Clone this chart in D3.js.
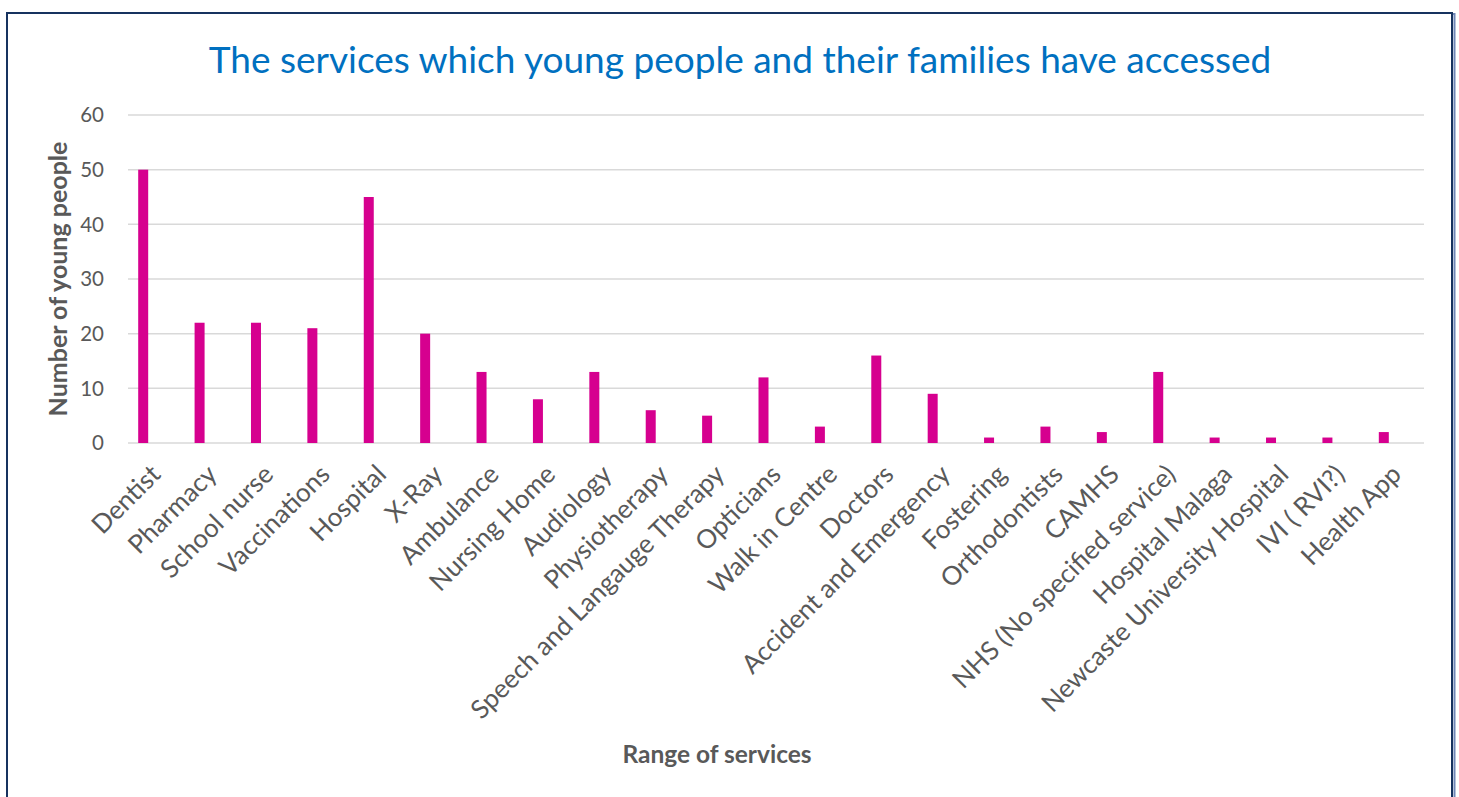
<!DOCTYPE html>
<html>
<head>
<meta charset="utf-8">
<script src="https://cdn.jsdelivr.net/npm/d3@7"></script>
<style>
  html, body { margin: 0; padding: 0; background: #fff; }
  svg text { font-family: Lato, "Open Sans", sans-serif; }
</style>
</head>
<body>
<div id="chart"></div>
<script>
// 数据
const categories = [
  "Dentist", "Pharmacy", "School nurse", "Vaccinations", "Hospital", "X-Ray",
  "Ambulance", "Nursing Home", "Audiology", "Physiotherapy",
  "Speech and Langauge Therapy", "Opticians", "Walk in Centre", "Doctors",
  "Accident and Emergency", "Fostering", "Orthodontists", "CAMHS",
  "NHS (No specified service)", "Hospital Malaga", "Newcaste University Hospital",
  "IVI ( RVI?)", "Health App"
];
const counts = [50, 22, 22, 21, 45, 20, 13, 8, 13, 6, 5, 12, 3, 16, 9, 1, 3, 2, 13, 1, 1, 1, 2];
const yTicks = [0, 10, 20, 30, 40, 50, 60];

const width = 1459, height = 797;
const plot = { left: 128, right: 1424, top: 115, bottom: 443 };

const svg = d3.select("#chart").append("svg")
  .attr("width", width)
  .attr("height", height);

// 外框
svg.append("rect")
  .attr("x", 9.5).attr("y", 14)
  .attr("width", 1445).attr("height", 800)
  .attr("fill", "none")
  .attr("stroke", "#6f86b6")
  .attr("stroke-width", 2);
svg.append("rect")
  .attr("x", 7).attr("y", 13)
  .attr("width", 1445).attr("height", 800)
  .attr("fill", "#fff")
  .attr("stroke", "#17325f")
  .attr("stroke-width", 2);

// 柱子位置比网格线略偏左（与原图一致）
const x = d3.scaleBand()
  .domain(categories)
  .range([115, 1412]);

const y = d3.scaleLinear()
  .domain([0, 60])
  .range([plot.bottom, plot.top]);

// 网格线
svg.append("g")
  .selectAll("line")
  .data(yTicks)
  .join("line")
  .attr("x1", plot.left)
  .attr("x2", plot.right)
  .attr("y1", d => y(d))
  .attr("y2", d => y(d))
  .attr("stroke", "#d9d9d9")
  .attr("stroke-width", 1.5);

// Y轴刻度
svg.append("g")
  .selectAll("text")
  .data(yTicks)
  .join("text")
  .attr("x", 104)
  .attr("y", d => y(d))
  .attr("dy", "0.35em")
  .attr("text-anchor", "end")
  .attr("fill", "#595959")
  .attr("font-size", 20.5)
  .text(d => d);

// 柱子
const barW = 10;
svg.append("g")
  .selectAll("rect")
  .data(categories.map((c, i) => ({ c, v: counts[i] })))
  .join("rect")
  .attr("x", d => x(d.c) + x.bandwidth() / 2 - barW / 2)
  .attr("y", d => y(d.v))
  .attr("width", barW)
  .attr("height", d => y(0) - y(d.v))
  .attr("fill", "#d6008f");

// X轴标签
svg.append("g")
  .selectAll("text")
  .data(categories)
  .join("text")
  .attr("transform", d => `translate(${x(d) + x.bandwidth() / 2 + 19},${y(0) + 33}) rotate(-45)`)
  .attr("text-anchor", "end")
  .attr("fill", "#595959")
  .attr("font-size", 26)
  .text(d => d);

// 标题
svg.append("text")
  .attr("x", 740)
  .attr("y", 73)
  .attr("text-anchor", "middle")
  .attr("fill", "#0070c0")
  .attr("font-size", 37)
  .text("The services which young people and their families have accessed");

// 轴标题
svg.append("text")
  .attr("transform", `translate(67,${(y(0) + y(60)) / 2}) rotate(-90)`)
  .attr("text-anchor", "middle")
  .attr("fill", "#595959")
  .attr("font-size", 25)
  .attr("font-weight", "bold")
  .text("Number of young people");

svg.append("text")
  .attr("x", 717)
  .attr("y", 763)
  .attr("text-anchor", "middle")
  .attr("fill", "#595959")
  .attr("font-size", 24.5)
  .attr("font-weight", "bold")
  .text("Range of services");
</script>
</body>
</html>
